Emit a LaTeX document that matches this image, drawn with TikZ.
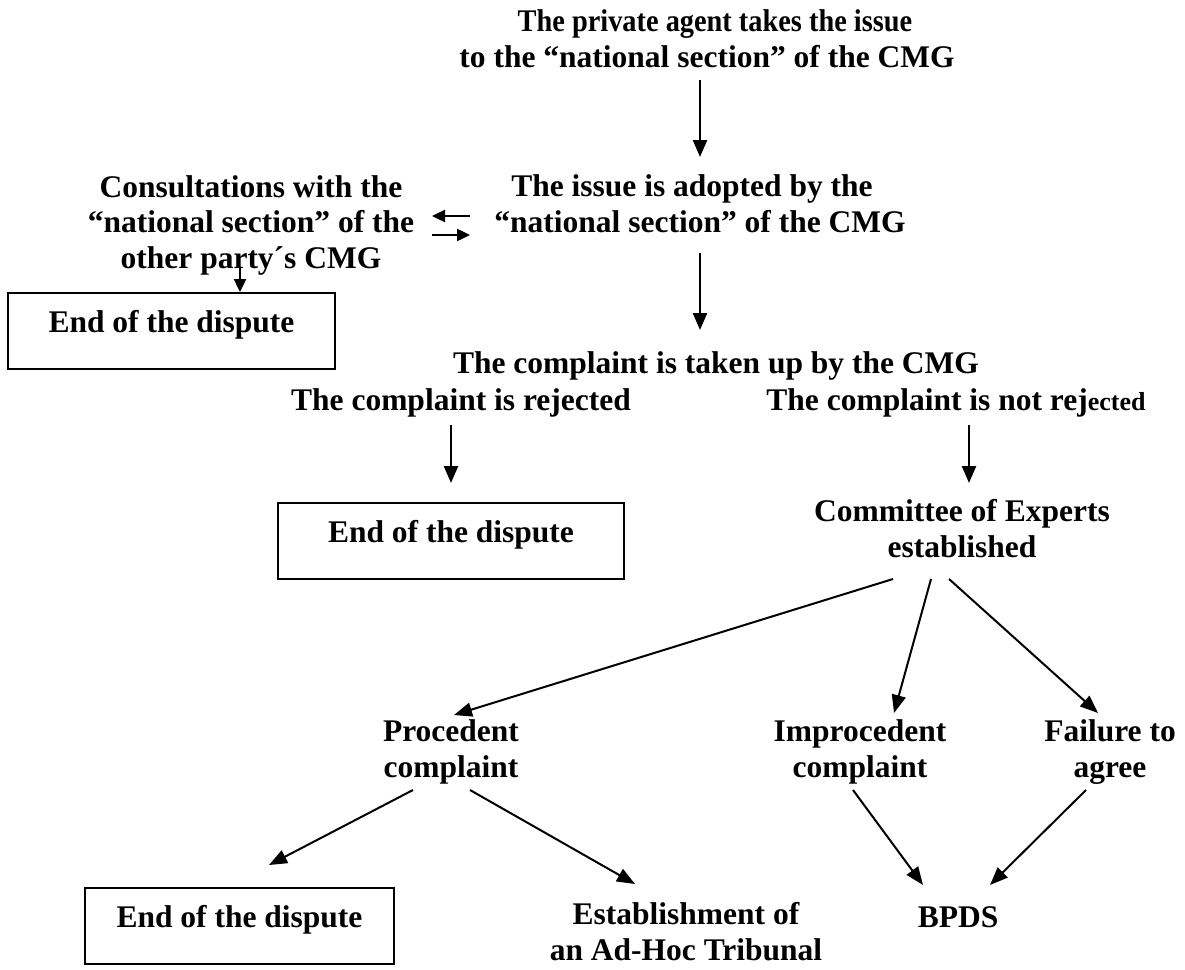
\documentclass[tikz,border=0pt]{standalone}
\usepackage{fontspec}
\setmainfont{Liberation Serif}
\usepackage{graphicx}
\usetikzlibrary{arrows.meta}
\begin{document}
\begin{tikzpicture}[x=1pt, y=-1pt,
  font=\fontsize{31.5}{35.5}\selectfont\bfseries,
  txt/.style={align=center, anchor=base, inner sep=0pt},
  endbox/.style={draw, line width=1.8pt, anchor=north, inner xsep=0pt, inner ysep=0pt, text height=40pt, text depth=36pt},
  varr/.style={line width=2.4pt, -{Triangle[length=17pt,width=14pt]}},
  darr/.style={line width=2pt, -{Triangle[length=18pt,width=14pt]}},
  sarr/.style={line width=2.4pt, -{Triangle[length=13pt,width=12pt]}}]
\useasboundingbox (0,0) rectangle (1185,969);

\node[txt] (top) at (707,67) {\hspace*{16pt}\scalebox{0.9}[1]{The private agent takes the issue}\\to the “national section” of the CMG};
\node[txt] (adopt) at (700,232) {The issue is adopted by the\hspace*{16pt}\\“national section” of the CMG};
\node[txt] (consult) at (251,268) {Consultations with the\\“national section” of the\\other party´s CMG};
\node[endbox, minimum width=327pt] (box1) at (171.5,292) {End of the dispute};
\node[txt] (taken) at (716,373) {The complaint is taken up by the CMG};
\node[txt] (rej) at (461,410) {The complaint is rejected};
\node[txt] (notrej) at (956,410) {The complaint is not rej{\fontsize{26}{30}\selectfont ected}};
\node[endbox, minimum width=346pt] (box2) at (451,502) {End of the dispute};
\node[txt] (comm) at (962,557) {Committee of Experts\\established};
\node[txt] (proc) at (451,777) {Procedent\\complaint};
\node[txt] (improc) at (860,777) {Improcedent\\complaint};
\node[txt] (fail) at (1110,777) {Failure to\\agree};
\node[endbox, minimum width=309pt] (box3) at (239.5,887) {End of the dispute};
\node[txt] (estab) at (686,960) {Establishment of\\an Ad-Hoc Tribunal};
\node[txt] (bpds) at (958,927) {BPDS};

\draw[varr] ([shift={(-7,13)}]top.base) -- ([shift={(0,-75)}]adopt.base);
\draw[varr] ([shift={(0,21)}]adopt.base) -- ([shift={(-16,-43)}]taken.base);
\draw[varr] ([shift={(-10,15)}]rej.base) -- ([shift={(0,-19)}]box2.north);
\draw[varr] ([shift={(13,15)}]notrej.base) -- ([shift={(7,-74)}]comm.base);
\draw[sarr] ([shift={(-230,-16)}]adopt.base) -- ([shift={(181,-52)}]consult.base);
\draw[sarr] ([shift={(181,-33)}]consult.base) -- ([shift={(-230,3)}]adopt.base);
\draw[sarr] ([shift={(-11,0)}]consult.base) -- ([shift={(68.5,0)}]box1.north);
\draw[darr] ([shift={(-69,22)}]comm.base) -- ([shift={(3,-62)}]proc.base);
\draw[darr] ([shift={(-31,22)}]comm.base) -- ([shift={(34,-64)}]improc.base);
\draw[darr] ([shift={(-13,22)}]comm.base) -- ([shift={(-12,-64)}]fail.base);
\draw[darr] ([shift={(-38,13)}]proc.base) -- ([shift={(29.5,-22)}]box3.north);
\draw[darr] ([shift={(19,13)}]proc.base) -- ([shift={(-51,-76)}]estab.base);
\draw[darr] ([shift={(-7,13)}]improc.base) -- ([shift={(-35,-42)}]bpds.base);
\draw[darr] ([shift={(-24,13)}]fail.base) -- ([shift={(32,-42)}]bpds.base);
\end{tikzpicture}
\end{document}
